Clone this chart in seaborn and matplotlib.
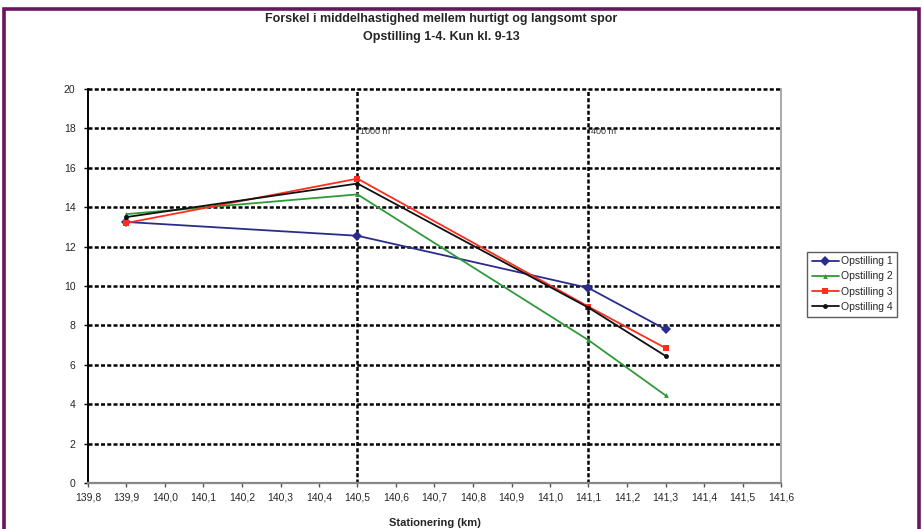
import matplotlib
matplotlib.use("Agg")
import matplotlib.pyplot as plt
from matplotlib.patches import Rectangle
from matplotlib.lines import Line2D
import numpy as np
import pandas as pd
import seaborn as sns

# Station positions (km) and mean-speed differences for each setup
stations = [139.9, 140.5, 141.1, 141.3]
opstilling_1 = [13.25, 12.55, 9.9, 7.8]
opstilling_2 = [13.65, 14.65, 7.25, 4.45]
opstilling_3 = [13.2, 15.45, 8.95, 6.85]
opstilling_4 = [13.5, 15.2, 8.9, 6.45]
series_names = ["Opstilling 1", "Opstilling 2", "Opstilling 3", "Opstilling 4"]

x_ticks = [139.8, 139.9, 140.0, 140.1, 140.2, 140.3, 140.4, 140.5, 140.6,
           140.7, 140.8, 140.9, 141.0, 141.1, 141.2, 141.3, 141.4, 141.5, 141.6]
y_ticks = [0, 2, 4, 6, 8, 10, 12, 14, 16, 18, 20]

markers_at = [140.5, 141.1]
marker_labels = ["1000 m", "400 m"]

title = "Forskel i middelhastighed mellem hurtigt og langsomt spor\nOpstilling 1-4. Kun kl. 9-13"
x_label = "Stationering (km)"

colors = ["#2a2c8c", "#2f9a3a", "#ff2d1f", "#111111"]
marker_styles = ["D", "^", "s", "o"]
marker_sizes = [5, 3.5, 4.5, 3.5]

df = pd.concat([
    pd.DataFrame({"km": stations, "v": vals, "serie": name})
    for name, vals in zip(series_names, [opstilling_1, opstilling_2, opstilling_3, opstilling_4])
], ignore_index=True)

sns.set_theme(style="white")
plt.rcParams["font.family"] = ["Liberation Sans Narrow", "Liberation Sans", "DejaVu Sans"]

W, H = 922, 529
fig = plt.figure(figsize=(W / 100, H / 100), dpi=100)
fig.patch.set_facecolor("white")
ax = fig.add_axes([88 / W, 1 - 483 / H, (781 - 88) / W, (483 - 89) / H])

# horizontal dotted grid
for yv in y_ticks[1:]:
    ax.axhline(yv, color="black", lw=1.8, ls=(0, (1.6, 0.9)), zorder=1, clip_on=False)
# vertical reference lines
for xv, lab in zip(markers_at, marker_labels):
    ax.axvline(xv, color="black", lw=1.8, ls=(0, (1.6, 0.9)), zorder=1)
    ax.text(xv + 0.006, 18.05, lab, fontsize=6.5, color="#333333",
            va="top", ha="left", zorder=2)

for name, col, mk, ms in zip(series_names, colors, marker_styles, marker_sizes):
    sub = df[df["serie"] == name]
    sns.lineplot(data=sub, x="km", y="v", ax=ax, color=col, lw=1.3,
                 marker=mk, markersize=ms, markeredgewidth=0,
                 legend=False, zorder=3)

ax.set_xlim(139.8, 141.6)
ax.set_ylim(0, 20)
ax.set_xticks(x_ticks)
ax.set_xticklabels([f"{t:.1f}".replace(".", ",") for t in x_ticks], fontsize=7.5)
ax.set_yticks(y_ticks)
ax.set_yticklabels([str(t) for t in y_ticks], fontsize=7.5)
ax.tick_params(axis="x", length=3, width=1, color="#555555", pad=4, direction="out")
ax.tick_params(axis="y", length=3, width=1, color="black", pad=6, direction="out")
ax.tick_params(bottom=True, left=True)
ax.set_xlabel(x_label, fontsize=8, fontweight="bold", labelpad=11)
ax.set_ylabel("")

ax.spines["top"].set_visible(False)
ax.spines["left"].set_color("black")
ax.spines["left"].set_linewidth(1.4)
ax.spines["bottom"].set_color("#888888")
ax.spines["bottom"].set_linewidth(1.6)
ax.spines["right"].set_color("#aaaaaa")
ax.spines["right"].set_linewidth(1.4)

fig.text(441 / W, 1 - 28 / H, title, ha="center", va="center",
         fontsize=9, fontweight="bold", linespacing=1.75)

handles = [Line2D([0], [0], color=c, lw=1.3, marker=m, markersize=s, markeredgewidth=0)
           for c, m, s in zip(colors, marker_styles, marker_sizes)]
leg = fig.legend(handles, series_names, loc="center left",
                 bbox_to_anchor=(807 / W, 1 - 284 / H), fontsize=7.5,
                 frameon=True, fancybox=False, edgecolor="#333333",
                 handlelength=2.6, handletextpad=0.2, borderpad=0.45,
                 labelspacing=0.5, borderaxespad=0)
leg.get_frame().set_linewidth(1.0)

# outer frame
fig.patches.append(Rectangle((4 / W, -0.05), (W - 7) / W, 1 - 9 / H + 0.05,
                             transform=fig.transFigure, fill=False,
                             edgecolor="#6b1560", lw=2.6, zorder=10))

fig.savefig("out.png", dpi=100, facecolor="white")
